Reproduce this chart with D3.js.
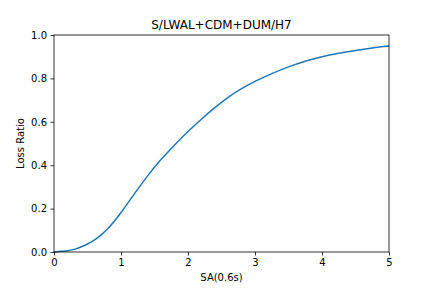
<!DOCTYPE html>
<html>
<head>
<meta charset="utf-8">
<script src="https://cdn.jsdelivr.net/npm/d3@7"></script>
<style>
  body { margin: 0; background: #fff; }
  text { font-family: "DejaVu Sans", sans-serif; fill: #000; }
</style>
</head>
<body>
<div id="chart"></div>
<script>
// fragility curve
const saValues = [0, 0.1, 0.2, 0.3, 0.4, 0.5, 0.6, 0.7, 0.8, 0.9, 1.0,
                  1.2, 1.4, 1.6, 1.8, 2.0, 2.2, 2.4, 2.6, 2.8, 3.0,
                  3.25, 3.5, 3.75, 4.0, 4.25, 4.5, 4.75, 5.0];
const lossRatio = [0, 0.003, 0.006, 0.012, 0.023, 0.037, 0.055, 0.078, 0.107, 0.142, 0.182,
                   0.268, 0.352, 0.427, 0.493, 0.555, 0.612, 0.665, 0.713, 0.753, 0.786,
                   0.822, 0.853, 0.879, 0.900, 0.916, 0.929, 0.940, 0.949];
const xTicks = [0, 1, 2, 3, 4, 5];
const yTicks = [0, 0.2, 0.4, 0.6, 0.8, 1.0];
const titleText = "S/LWAL+CDM+DUM/H7";

const width = 432, height = 288;
const margin = {top: 35, right: 43, bottom: 36, left: 54};

const svg = d3.select("#chart").append("svg")
    .attr("width", width)
    .attr("height", height);

const x = d3.scaleLinear().domain([0, 5]).range([margin.left, width - margin.right]);
const y = d3.scaleLinear().domain([0, 1]).range([height - margin.bottom, margin.top]);

const points = saValues.map((d, i) => [d, lossRatio[i]]);

const line = d3.line()
    .x(d => x(d[0]))
    .y(d => y(d[1]))
    .curve(d3.curveMonotoneX);

svg.append("path")
    .datum(points)
    .attr("fill", "none")
    .attr("stroke", "#1f77b4")
    .attr("stroke-width", 1.5)
    .attr("stroke-linejoin", "round")
    .attr("d", line);

const xAxis = svg.append("g")
    .attr("transform", `translate(0,${height - margin.bottom})`)
    .call(d3.axisBottom(x).tickValues(xTicks).tickFormat(d3.format("d")).tickSize(3.5).tickPadding(3.5));

const yAxis = svg.append("g")
    .attr("transform", `translate(${margin.left},0)`)
    .call(d3.axisLeft(y).tickValues(yTicks).tickFormat(d3.format(".1f")).tickSize(3.5).tickPadding(3.5));

[xAxis, yAxis].forEach(g => {
  g.selectAll("text").style("font-size", "10px").style("font-family", "DejaVu Sans");
  g.selectAll("line").attr("stroke", "#000").attr("stroke-width", 0.8);
  g.select(".domain").remove();
});

// frame
svg.append("rect")
    .attr("x", margin.left)
    .attr("y", margin.top)
    .attr("width", width - margin.left - margin.right)
    .attr("height", height - margin.top - margin.bottom)
    .attr("fill", "none")
    .attr("stroke", "#000")
    .attr("stroke-width", 0.8);

svg.append("text")
    .attr("x", (margin.left + width - margin.right) / 2)
    .attr("y", 29)
    .attr("text-anchor", "middle")
    .style("font-size", "12px")
    .text(titleText);

svg.append("text")
    .attr("x", (margin.left + width - margin.right) / 2)
    .attr("y", 281)
    .attr("text-anchor", "middle")
    .style("font-size", "10px")
    .text("SA(0.6s)");

svg.append("text")
    .attr("transform", `translate(24,${(margin.top + height - margin.bottom) / 2}) rotate(-90)`)
    .attr("text-anchor", "middle")
    .style("font-size", "10px")
    .text("Loss Ratio");
</script>
</body>
</html>
